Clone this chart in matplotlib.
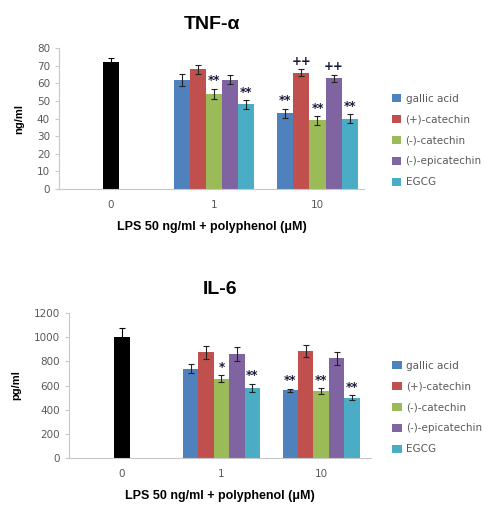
import matplotlib

matplotlib.use("Agg")

import matplotlib.pyplot as plt
import numpy as np

# --- data ---
doses = ["0", "1", "10"]
series = ["gallic acid", "(+)-catechin", "(-)-catechin", "(-)-epicatechin", "EGCG"]
colors = ["#4F81BD", "#C0504D", "#9BBB59", "#8064A2", "#4BACC6"]

tnf_ctrl, tnf_ctrl_err = 72, 2.5
tnf_mean = [[62, 43], [68, 66], [54, 39], [62, 63], [48, 40]]
tnf_err = [[3.5, 2.5], [2.5, 2.0], [3.0, 2.5], [2.5, 2.0], [2.5, 2.5]]
tnf_marks = [["", "**"], ["", "++"], ["**", "**"], ["", "++"], ["**", "**"]]

il6_ctrl, il6_ctrl_err = 1005, 75
il6_mean = [[740, 560], [875, 885], [655, 555], [860, 825], [580, 500]]
il6_err = [[40, 15], [55, 50], [30, 25], [60, 55], [35, 20]]
il6_marks = [["", "**"], ["", ""], ["*", "**"], ["", ""], ["**", "**"]]

TICK = "#595959"
WIDTH = 0.155


def panel(ax, title, ylabel, ctrl, ctrl_err, mean, err, marks, ymax, ystep, leg_x, leg_y):
    ax.bar(0, ctrl, WIDTH, color="black", yerr=ctrl_err,
           error_kw=dict(ecolor="black", elinewidth=0.8, capsize=2.5, capthick=0.8))
    for i, (name, c) in enumerate(zip(series, colors)):
        xs = np.array([1, 2]) + (i - 2) * WIDTH
        ax.bar(xs, mean[i], WIDTH, color=c, label=name, yerr=err[i],
               error_kw=dict(ecolor="#222222", elinewidth=0.8, capsize=2.5, capthick=0.8))
        for x, m, e, t in zip(xs, mean[i], err[i], marks[i]):
            if t:
                ax.annotate(t, (x, m + e), xytext=(0, 1), textcoords="offset points",
                            ha="center", va="bottom", fontsize=8.5, fontweight="bold",
                            color="#1a1a3a")
    ax.set_ylim(0, ymax)
    ax.set_yticks(np.arange(0, ymax + 1, ystep))
    ax.set_xticks([0, 1, 2])
    ax.set_xticklabels(doses)
    for s in ("top", "right"):
        ax.spines[s].set_visible(False)
    for s in ("left", "bottom"):
        ax.spines[s].set_color("#c8c8c8")
        ax.spines[s].set_linewidth(0.8)
    ax.tick_params(axis="y", colors="#c8c8c8", labelcolor=TICK, labelsize=7.5,
                   length=3, width=0.8)
    ax.tick_params(axis="x", length=0, labelcolor=TICK, labelsize=7.5, pad=8)
    ax.set_title(title, fontsize=14, fontweight="bold", family="Liberation Sans", pad=14)
    ax.set_ylabel(ylabel, fontsize=8, fontweight="bold", family="Liberation Sans",
                  labelpad=9)
    ax.set_xlabel("LPS 50 ng/ml + polyphenol (\u03bcM)", fontsize=9, fontweight="bold",
                  family="Liberation Sans", labelpad=8)
    ax.legend(loc="center left", bbox_to_anchor=(leg_x, leg_y), frameon=False,
              fontsize=7.5, labelcolor=TICK, handlelength=0.9, handleheight=0.9,
              handletextpad=0.4, labelspacing=1.05, borderaxespad=0, borderpad=0)


fig = plt.figure(figsize=(4.89, 5.05), dpi=100)
ax1 = fig.add_axes([0.1207, 0.6257, 0.6237, 0.279])
ax2 = fig.add_axes([0.1411, 0.0931, 0.6176, 0.287])

panel(ax1, "TNF-\u03b1", "ng/ml", tnf_ctrl, tnf_ctrl_err, tnf_mean, tnf_err, tnf_marks,
      80, 10, 1.092, 0.344)
ax1.set_xlim(-0.5, 2.45)
panel(ax2, "IL-6", "pg/ml", il6_ctrl, il6_ctrl_err, il6_mean, il6_err, il6_marks,
      1200, 200, 1.07, 0.348)
ax2.set_xlim(-0.53, 2.5)

fig.savefig("out.png", dpi=100, facecolor="white")
